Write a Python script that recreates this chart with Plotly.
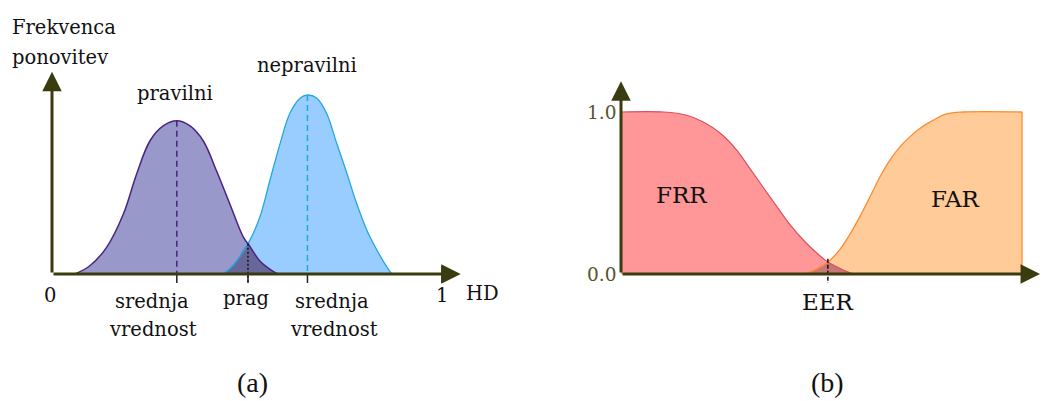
import numpy as np
import plotly.graph_objects as go

# ---------------- data ----------------
# panel (a): HD distributions (x = Hamming distance 0..1, y = relative frequency)
pravilni_x = [0.059, 0.097, 0.140, 0.183, 0.217, 0.251, 0.285, 0.320, 0.354, 0.388,
              0.422, 0.456, 0.491, 0.505, 0.533, 0.567, 0.579]
pravilni_y = [0.0, 0.046, 0.149, 0.335, 0.559, 0.743, 0.827, 0.856, 0.827, 0.743,
              0.575, 0.391, 0.204, 0.162, 0.073, 0.015, 0.0]
nepravilni_x = [0.439, 0.465, 0.503, 0.533, 0.559, 0.585, 0.610, 0.636, 0.655, 0.679,
                0.704, 0.730, 0.756, 0.781, 0.807, 0.833, 0.858, 0.871]
nepravilni_y = [0.0, 0.050, 0.171, 0.318, 0.525, 0.730, 0.898, 0.982, 1.0, 0.982,
                0.898, 0.730, 0.563, 0.395, 0.246, 0.134, 0.041, 0.0]

# panel (b): error rates vs threshold
frr_x = [0.0, 0.107, 0.164, 0.204, 0.247, 0.2885, 0.3217, 0.3549, 0.3883, 0.4214,
         0.4546, 0.488, 0.516, 0.554, 0.579]
frr_y = [1.0, 1.0, 0.98, 0.94, 0.87, 0.765, 0.65, 0.534, 0.418, 0.305,
         0.21, 0.13, 0.074, 0.025, 0.0]
far_x = [0.456, 0.484, 0.517, 0.546, 0.571, 0.596, 0.621, 0.646, 0.671, 0.696,
         0.721, 0.746, 0.779, 0.812, 0.854, 1.0]
far_y = [0.0, 0.025, 0.076, 0.152, 0.246, 0.356, 0.477, 0.60, 0.704, 0.786,
         0.848, 0.90, 0.95, 0.988, 1.0, 1.0]

y_tick_vals = [0.0, 1.0]
y_tick_text = ["0.0", "1.0"]

# ---------------- styles ----------------
AX = "#3b3b10"
FONT = "'DejaVu Serif', serif"
CAP_FONT = "'Liberation Serif', serif"
PUR_FILL, PUR_LINE = "#9998cb", "#4a2480"
BLU_FILL, BLU_LINE = "#99ccff", "#22a8e0"
OVL_A = "#67679a"
FRR_FILL, FRR_LINE = "#ff9799", "#d9515f"
FAR_FILL, FAR_LINE = "#ffcc99", "#ff8a2e"
OVL_B = "#c87676"


def crossing(x1, y1, x2, y2):
    """x where two sampled curves cross (sign change of their difference)."""
    grid = np.union1d(x1, x2)
    grid = grid[(grid >= max(x1[0], x2[0])) & (grid <= min(x1[-1], x2[-1]))]
    d = np.interp(grid, x1, y1) - np.interp(grid, x2, y2)
    i = np.where(np.sign(d[:-1]) != np.sign(d[1:]))[0][0]
    xi = grid[i] - d[i] * (grid[i + 1] - grid[i]) / (d[i + 1] - d[i])
    return xi, float(np.interp(xi, x1, y1))


def overlap(xl, yl, xr, yr, xi, yi):
    """region under both curves: rising curve left of xi, falling curve right."""
    xl, yl, xr, yr = map(np.asarray, (xl, yl, xr, yr))
    ox = list(xl[xl < xi]) + [xi] + list(xr[xr > xi])
    oy = list(yl[xl < xi]) + [yi] + list(yr[xr > xi])
    return ox, oy


fig = go.Figure()

# ================= panel (a) =================
px_, py_ = np.array(pravilni_x), np.array(pravilni_y)
nx_, ny_ = np.array(nepravilni_x), np.array(nepravilni_y)
prag_x, prag_y = crossing(px_, py_, nx_, ny_)
ox, oy = overlap(nx_, ny_, px_, py_, prag_x, prag_y)

fig.add_trace(go.Scatter(x=nepravilni_x, y=nepravilni_y, mode="lines", line=dict(width=0, shape="spline"),
                         fill="tozeroy", fillcolor=BLU_FILL, xaxis="x", yaxis="y", hoverinfo="skip"))
fig.add_trace(go.Scatter(x=pravilni_x, y=pravilni_y, mode="lines", line=dict(width=0, shape="spline"),
                         fill="tozeroy", fillcolor=PUR_FILL, xaxis="x", yaxis="y", hoverinfo="skip"))
fig.add_trace(go.Scatter(x=ox, y=oy, mode="lines", line=dict(width=0, shape="spline"),
                         fill="tozeroy", fillcolor=OVL_A, xaxis="x", yaxis="y", hoverinfo="skip"))
fig.add_trace(go.Scatter(x=nepravilni_x, y=nepravilni_y, mode="lines",
                         line=dict(color=BLU_LINE, width=1.3, shape="spline"), xaxis="x", yaxis="y"))
fig.add_trace(go.Scatter(x=pravilni_x, y=pravilni_y, mode="lines",
                         line=dict(color=PUR_LINE, width=1.5, shape="spline"), xaxis="x", yaxis="y"))

pm = pravilni_x[int(np.argmax(pravilni_y))]
nm = nepravilni_x[int(np.argmax(nepravilni_y))]
fig.add_trace(go.Scatter(x=[pm, pm], y=[max(pravilni_y), 0], mode="lines",
                         line=dict(color=PUR_LINE, width=1.5, dash="6px,4px"), xaxis="x", yaxis="y"))
fig.add_trace(go.Scatter(x=[nm, nm], y=[max(nepravilni_y), 0], mode="lines",
                         line=dict(color=BLU_LINE, width=1.5, dash="6px,4px"), xaxis="x", yaxis="y"))
fig.add_trace(go.Scatter(x=[prag_x, prag_x], y=[prag_y, -0.05], mode="lines",
                         line=dict(color="#111111", width=1.5, dash="2px,2px"), xaxis="x", yaxis="y"))

# ================= panel (b) =================
fx_, fy_ = np.array(frr_x), np.array(frr_y)
ax_, ay_ = np.array(far_x), np.array(far_y)
eer_x, eer_y = crossing(fx_, fy_, ax_, ay_)
bx, by = overlap(ax_, ay_, fx_, fy_, eer_x, eer_y)

fig.add_trace(go.Scatter(x=frr_x, y=frr_y, mode="lines", line=dict(width=0, shape="spline"),
                         fill="tozeroy", fillcolor=FRR_FILL, xaxis="x2", yaxis="y2", hoverinfo="skip"))
fig.add_trace(go.Scatter(x=far_x, y=far_y, mode="lines", line=dict(width=0, shape="spline"),
                         fill="tozeroy", fillcolor=FAR_FILL, xaxis="x2", yaxis="y2", hoverinfo="skip"))
fig.add_trace(go.Scatter(x=bx, y=by, mode="lines", line=dict(width=0, shape="spline"),
                         fill="tozeroy", fillcolor=OVL_B, xaxis="x2", yaxis="y2", hoverinfo="skip"))
fig.add_trace(go.Scatter(x=frr_x, y=frr_y, mode="lines",
                         line=dict(color=FRR_LINE, width=1.2, shape="spline"), xaxis="x2", yaxis="y2"))
fig.add_trace(go.Scatter(x=far_x, y=far_y, mode="lines",
                         line=dict(color=FAR_LINE, width=1.3, shape="spline"), xaxis="x2", yaxis="y2"))
fig.add_trace(go.Scatter(x=[far_x[-1], far_x[-1]], y=[far_y[-1], 0], mode="lines",
                         line=dict(color=FAR_LINE, width=1.3), xaxis="x2", yaxis="y2"))
fig.add_trace(go.Scatter(x=[eer_x, eer_x], y=[eer_y + 0.02, -0.055], mode="lines",
                         line=dict(color="#111111", width=1.5, dash="4px,2px"), xaxis="x2", yaxis="y2"))

# ---------------- axes drawn as arrows ----------------
def arrow(x, y, axv, ayv, xr, yr):
    return dict(x=x, y=y, ax=axv, ay=ayv, xref=xr, yref=yr, axref=xr, ayref=yr, text="",
                showarrow=True, arrowhead=2, arrowsize=1.3, arrowwidth=3, arrowcolor=AX)

ann = [
    arrow(0, 1.13, 0, 0, "x", "y"),
    arrow(1.048, 0, 0, 0, "x", "y"),
    arrow(0, 1.19, 0, 0, "x2", "y2"),
    arrow(1.045, 0, 0, 0, "x2", "y2"),
]

shapes = []
for xv in (pm, prag_x, nm):
    shapes.append(dict(type="line", xref="x", yref="y", x0=xv, x1=xv, y0=0, y1=-0.05,
                       line=dict(color="#222222", width=1.5)))
shapes.append(dict(type="line", xref="x", yref="y", x0=1, x1=1, y0=0.045, y1=-0.05,
                   line=dict(color="#222222", width=1.5)))

S = 19.5   # label font size (panel a)
SB = 23    # FRR / FAR / EER


def txt(t, x, base_px, xr, size=S, xanchor="center", color="#111111", family=FONT):
    """text placed by its baseline (pixel row in the 401 px picture)."""
    yr = "y" if xr == "x" else "y2"
    unit = 179 if xr == "x" else 162
    yc = (274 - (base_px - 0.346 * size)) / unit
    return dict(text=t, x=x, y=yc, xref=xr, yref=yr, showarrow=False, xanchor=xanchor,
                yanchor="middle", font=dict(family=family, size=size, color=color))

ann += [
    txt("Frekvenca", -0.108, 34, "x", xanchor="left"),
    txt("ponovitev", -0.108, 64, "x", xanchor="left"),
    txt("pravilni", pm - 0.005, 100, "x"),
    txt("nepravilni", nm, 72.7, "x"),
    txt("srednja", pm - 0.064, 308, "x"),
    txt("vrednost", pm - 0.06, 336, "x"),
    txt("prag", prag_x - 0.005, 305, "x"),
    txt("srednja", nm + 0.064, 308, "x"),
    txt("vrednost", nm + 0.068, 336, "x"),
    txt("0", -0.005, 302, "x"),
    txt("1", 1.0, 302, "x"),
    txt("HD", 1.105, 300, "x"),
    txt("(a)", 0.513, 392, "x", size=28, family=CAP_FONT),
    txt("FRR", 0.150, 203, "x2", size=SB),
    txt("FAR", 0.835, 207, "x2", size=SB),
    txt("EER", eer_x, 310, "x2", size=SB),
    txt("(b)", 0.516, 392, "x2", size=28, family=CAP_FONT),
]
for v, t in zip(y_tick_vals, y_tick_text):
    ann.append(txt(t, -0.048, 274 - v * 162 + 7, "x2", size=18.5, color="#55552e"))

hidden = dict(visible=False, showgrid=False, zeroline=False, fixedrange=True)
fig.update_layout(
    width=1041, height=401, margin=dict(l=0, r=0, t=0, b=0),
    paper_bgcolor="white", plot_bgcolor="white", showlegend=False,
    xaxis=dict(domain=[0, 0.5], range=[-52 / 390, (520.5 - 52) / 390], **hidden),
    yaxis=dict(domain=[0, 1], range=[-127 / 179, 274 / 179], **hidden),
    xaxis2=dict(domain=[0.5, 1], range=[(520.5 - 621) / 401, (1041 - 621) / 401], **hidden),
    yaxis2=dict(domain=[0, 1], range=[-127 / 162, 274 / 162], anchor="x2", **hidden),
    annotations=ann, shapes=shapes,
)
fig.write_html("out.html", config={"displayModeBar": False},
               post_script="document.body.style.margin='0';document.body.style.overflow='hidden';")
